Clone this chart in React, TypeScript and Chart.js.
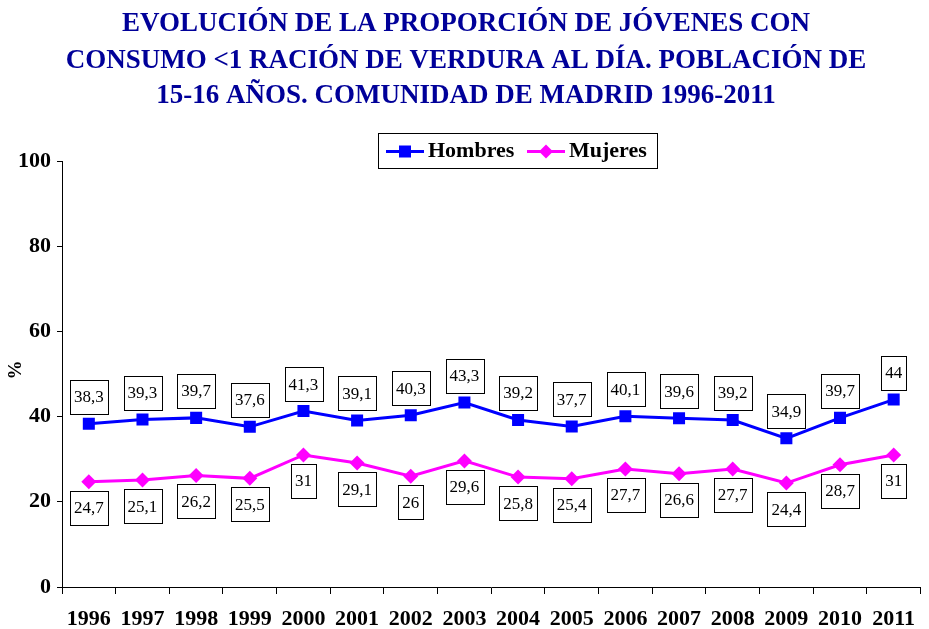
import React, { useEffect, useRef } from "react";
import { Chart, registerables } from "chart.js";

Chart.register(...registerables);

const titleLines = [
  "EVOLUCIÓN DE LA PROPORCIÓN DE JÓVENES CON",
  "CONSUMO <1 RACIÓN DE VERDURA AL DÍA. POBLACIÓN DE",
  "15-16 AÑOS. COMUNIDAD DE MADRID 1996-2011",
];
const years = ["1996", "1997", "1998", "1999", "2000", "2001", "2002", "2003", "2004", "2005", "2006", "2007", "2008", "2009", "2010", "2011"];
const hombres = [38.3, 39.3, 39.7, 37.6, 41.3, 39.1, 40.3, 43.3, 39.2, 37.7, 40.1, 39.6, 39.2, 34.9, 39.7, 44];
const mujeres = [24.7, 25.1, 26.2, 25.5, 31, 29.1, 26, 29.6, 25.8, 25.4, 27.7, 26.6, 27.7, 24.4, 28.7, 31];
const yTicks = [0, 20, 40, 60, 80, 100];
const yAxisTitle = "%";

const SERIF = "'Liberation Serif', 'Times New Roman', serif";

const fmt = (v: number) => String(v).replace(".", ",");

const customPlugin = {
  id: "custom",
  afterDatasetsDraw(chart: any) {
    const ctx = chart.ctx;
    ctx.save();
    ctx.font = `17px ${SERIF}`;
    ctx.textAlign = "center";
    ctx.textBaseline = "middle";
    chart.data.datasets.forEach((ds: any, di: number) => {
      const meta = chart.getDatasetMeta(di);
      meta.data.forEach((pt: any, i: number) => {
        const txt = fmt(ds.data[i]);
        const w = ctx.measureText(txt).width + 8;
        const h = 34;
        const x = pt.x;
        const top = di === 0 ? pt.y - 10 - h : pt.y + 9;
        const rx = Math.round(x - w / 2) + 0.5;
        const ry = Math.round(top) + 0.5;
        ctx.fillStyle = "#ffffff";
        ctx.fillRect(rx, ry, Math.round(w), h);
        ctx.strokeStyle = "#000000";
        ctx.lineWidth = 1;
        ctx.strokeRect(rx, ry, Math.round(w), h);
        ctx.fillStyle = "#000000";
        ctx.fillText(txt, x, top + h / 2 + 1);
      });
    });
    ctx.restore();
  },
  afterDraw(chart: any) {
    const ctx = chart.ctx;
    ctx.save();
    ctx.font = `bold 27px ${SERIF}`;
    ctx.fillStyle = "#000099";
    ctx.textAlign = "center";
    ctx.textBaseline = "middle";
    const ys = [24, 61, 96];
    titleLines.forEach((l, i) => ctx.fillText(l, 466, ys[i]));

    ctx.save();
    ctx.translate(16, 370);
    ctx.rotate(-Math.PI / 2);
    ctx.font = `bold 19px ${SERIF}`;
    ctx.fillStyle = "#000";
    ctx.fillText(yAxisTitle, 0, 0);
    ctx.restore();

    const lx = 378, ly = 133, lw = 279, lh = 35;
    ctx.fillStyle = "#fff";
    ctx.fillRect(lx + 0.5, ly + 0.5, lw, lh);
    ctx.strokeStyle = "#000";
    ctx.lineWidth = 1;
    ctx.strokeRect(lx + 0.5, ly + 0.5, lw, lh);
    ctx.font = `bold 22px ${SERIF}`;
    ctx.textAlign = "left";
    const cy = ly + lh / 2 + 1;
    const items = [
      { x: 386, ds: chart.data.datasets[0] },
      { x: 527, ds: chart.data.datasets[1] },
    ];
    items.forEach((it) => {
      ctx.strokeStyle = it.ds.borderColor;
      ctx.lineWidth = 3;
      ctx.beginPath();
      ctx.moveTo(it.x, cy);
      ctx.lineTo(it.x + 38, cy);
      ctx.stroke();
      ctx.fillStyle = it.ds.borderColor;
      const mx = it.x + 19;
      if (it.ds.pointStyle === "rect") {
        ctx.fillRect(mx - 6, cy - 6, 12, 12);
      } else {
        ctx.beginPath();
        ctx.moveTo(mx, cy - 7);
        ctx.lineTo(mx + 7, cy);
        ctx.lineTo(mx, cy + 7);
        ctx.lineTo(mx - 7, cy);
        ctx.closePath();
        ctx.fill();
      }
      ctx.fillStyle = "#000";
      ctx.fillText(it.ds.label, it.x + 42, cy);
    });
    ctx.restore();
  },
};

export default function App() {
  const ref = useRef<HTMLCanvasElement>(null);
  useEffect(() => {
    if (!ref.current) return;
    const chart = new Chart(ref.current, {
      type: "line",
      data: {
        labels: years,
        datasets: [
          {
            label: "Hombres",
            data: hombres,
            borderColor: "#0000ff",
            backgroundColor: "#0000ff",
            borderWidth: 3,
            pointStyle: "rect",
            pointRadius: 8.5,
            pointBorderWidth: 0,
            tension: 0,
          },
          {
            label: "Mujeres",
            data: mujeres,
            borderColor: "#ff00ff",
            backgroundColor: "#ff00ff",
            borderWidth: 3,
            pointStyle: "rectRot",
            pointRadius: 7.5,
            pointBorderWidth: 0,
            tension: 0,
          },
        ],
      },
      options: {
        responsive: false,
        animation: false,
        layout: { padding: { top: 161, left: 0, right: 4, bottom: 0 } },
        plugins: {
          legend: { display: false },
          title: { display: false },
          tooltip: { enabled: false },
        },
        scales: {
          x: {
            type: "category",
            offset: true,
            grid: {
              display: true,
              drawOnChartArea: false,
              drawTicks: true,
              tickLength: 7,
              offset: true,
              color: "#000",
            },
            border: { display: true, color: "#000", width: 1 },
            ticks: {
              color: "#000",
              font: { family: SERIF, size: 22, weight: "bold" },
              padding: 12,
              maxRotation: 0,
              autoSkip: false,
            },
            afterFit: (s: any) => {
              s.height = 42;
            },
          },
          y: {
            min: 0,
            max: 100,
            afterBuildTicks: (s: any) => {
              s.ticks = yTicks.map((v) => ({ value: v }));
            },
            grid: {
              display: true,
              drawOnChartArea: false,
              drawTicks: true,
              tickLength: 5,
              color: "#000",
            },
            border: { display: true, color: "#000", width: 1 },
            ticks: {
              color: "#000",
              font: { family: SERIF, size: 22, weight: "bold" },
              padding: 6,
            },
            afterFit: (s: any) => {
              s.width = 62;
            },
          },
        },
      },
      plugins: [customPlugin],
    });
    return () => chart.destroy();
  }, []);
  return (
    <div style={{ position: "fixed", left: 0, top: 0, width: 929, height: 629, background: "#fff" }}>
      <canvas ref={ref} width={929} height={629} style={{ width: 929, height: 629 }} />
    </div>
  );
}
